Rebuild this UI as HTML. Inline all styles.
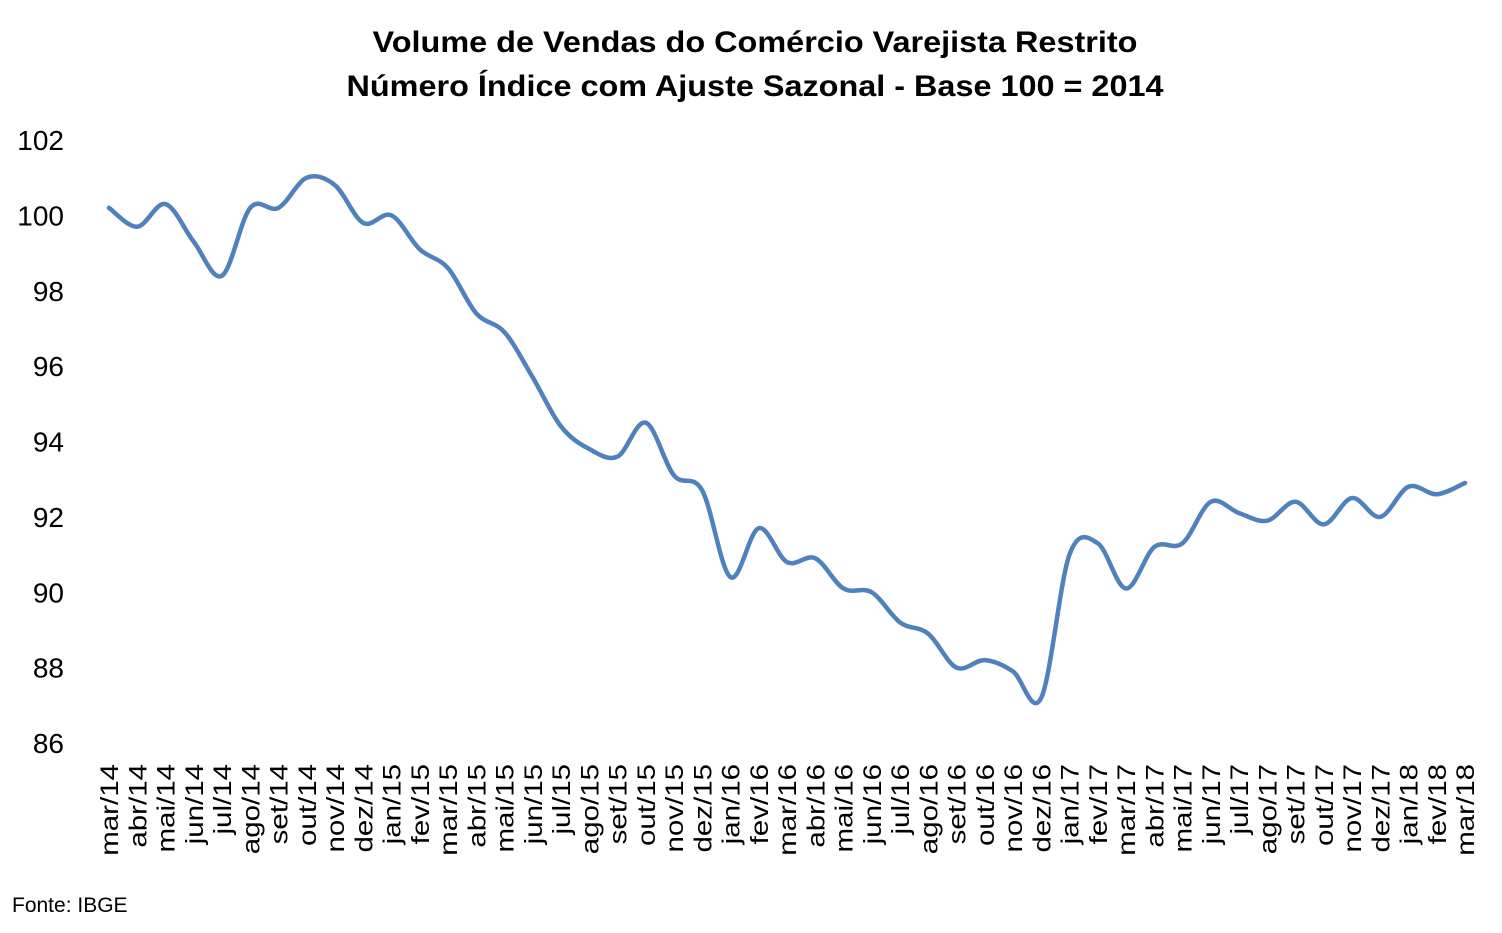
<!DOCTYPE html>
<html><head><meta charset="utf-8"><style>
body{margin:0;background:#fff;}
text{font-family:"Liberation Sans",sans-serif;fill:#000;}
</style></head><body>
<svg id="chart" width="1502" height="928" xmlns="http://www.w3.org/2000/svg">
<text x="755" y="52" text-anchor="middle" font-size="30" font-weight="bold" textLength="765" lengthAdjust="spacingAndGlyphs">Volume de Vendas do Comércio Varejista Restrito</text>
<text x="755" y="96" text-anchor="middle" font-size="30" font-weight="bold" textLength="817" lengthAdjust="spacingAndGlyphs">Número Índice com Ajuste Sazonal - Base 100 = 2014</text>
<g id="yaxis"></g>
<g id="xaxis"></g>
<path id="line" fill="none" stroke="#4f81bd" stroke-width="4.5" stroke-linejoin="round" stroke-linecap="round"/>
<text x="12" y="912" font-size="21">Fonte: IBGE</text>
</svg>
<script>
const categories=["mar/14","abr/14","mai/14","jun/14","jul/14","ago/14","set/14","out/14","nov/14","dez/14","jan/15","fev/15","mar/15","abr/15","mai/15","jun/15","jul/15","ago/15","set/15","out/15","nov/15","dez/15","jan/16","fev/16","mar/16","abr/16","mai/16","jun/16","jul/16","ago/16","set/16","out/16","nov/16","dez/16","jan/17","fev/17","mar/17","abr/17","mai/17","jun/17","jul/17","ago/17","set/17","out/17","nov/17","dez/17","jan/18","fev/18","mar/18"];
const values=[100.2,99.7,100.3,99.3,98.4,100.2,100.2,101.0,100.8,99.8,100.0,99.1,98.6,97.4,96.9,95.7,94.4,93.8,93.6,94.5,93.1,92.7,90.4,91.7,90.8,90.9,90.1,90.0,89.2,88.9,88.0,88.2,87.9,87.2,91.0,91.3,90.1,91.2,91.3,92.4,92.1,91.9,92.4,91.8,92.5,92.0,92.8,92.6,92.9];
const yTicks=[86,88,90,92,94,96,98,100,102];
const NS="http://www.w3.org/2000/svg";
const x0=109,x1=1465,yTop=140,yBot=743,yMin=86,yMax=102;
const xs=i=>x0+(x1-x0)*i/(categories.length-1);
const ys=v=>yBot-(v-yMin)/(yMax-yMin)*(yBot-yTop);
const ya=document.getElementById('yaxis');
yTicks.forEach(t=>{const e=document.createElementNS(NS,'text');


e.setAttribute('x',64);e.setAttribute('y',ys(t)+10);e.setAttribute('text-anchor','end');e.setAttribute('font-size','28');e.textContent=t;ya.appendChild(e);});
const xa=document.getElementById('xaxis');
categories.forEach((c,i)=>{const e=document.createElementNS(NS,'text');


const x=xs(i)+9,y=764;
e.setAttribute('x',0);e.setAttribute('y',0);e.setAttribute('text-anchor','end');e.setAttribute('font-size','25');
e.setAttribute('transform',`translate(${x} ${y}) rotate(-90) scale(1.18 1)`);e.textContent=c;xa.appendChild(e);});
const P=values.map((v,i)=>[xs(i),ys(v)]);
let d=`M${P[0][0]},${P[0][1]}`;
for(let i=0;i<P.length-1;i++){const p0=P[Math.max(0,i-1)],p1=P[i],p2=P[i+1],p3=P[Math.min(P.length-1,i+2)];
const k=1/6;
d+=` C${p1[0]+(p2[0]-p0[0])*k},${p1[1]+(p2[1]-p0[1])*k} ${p2[0]-(p3[0]-p1[0])*k},${p2[1]-(p3[1]-p1[1])*k} ${p2[0]},${p2[1]}`;}
document.getElementById('line').setAttribute('d',d);
</script>
</body></html>
